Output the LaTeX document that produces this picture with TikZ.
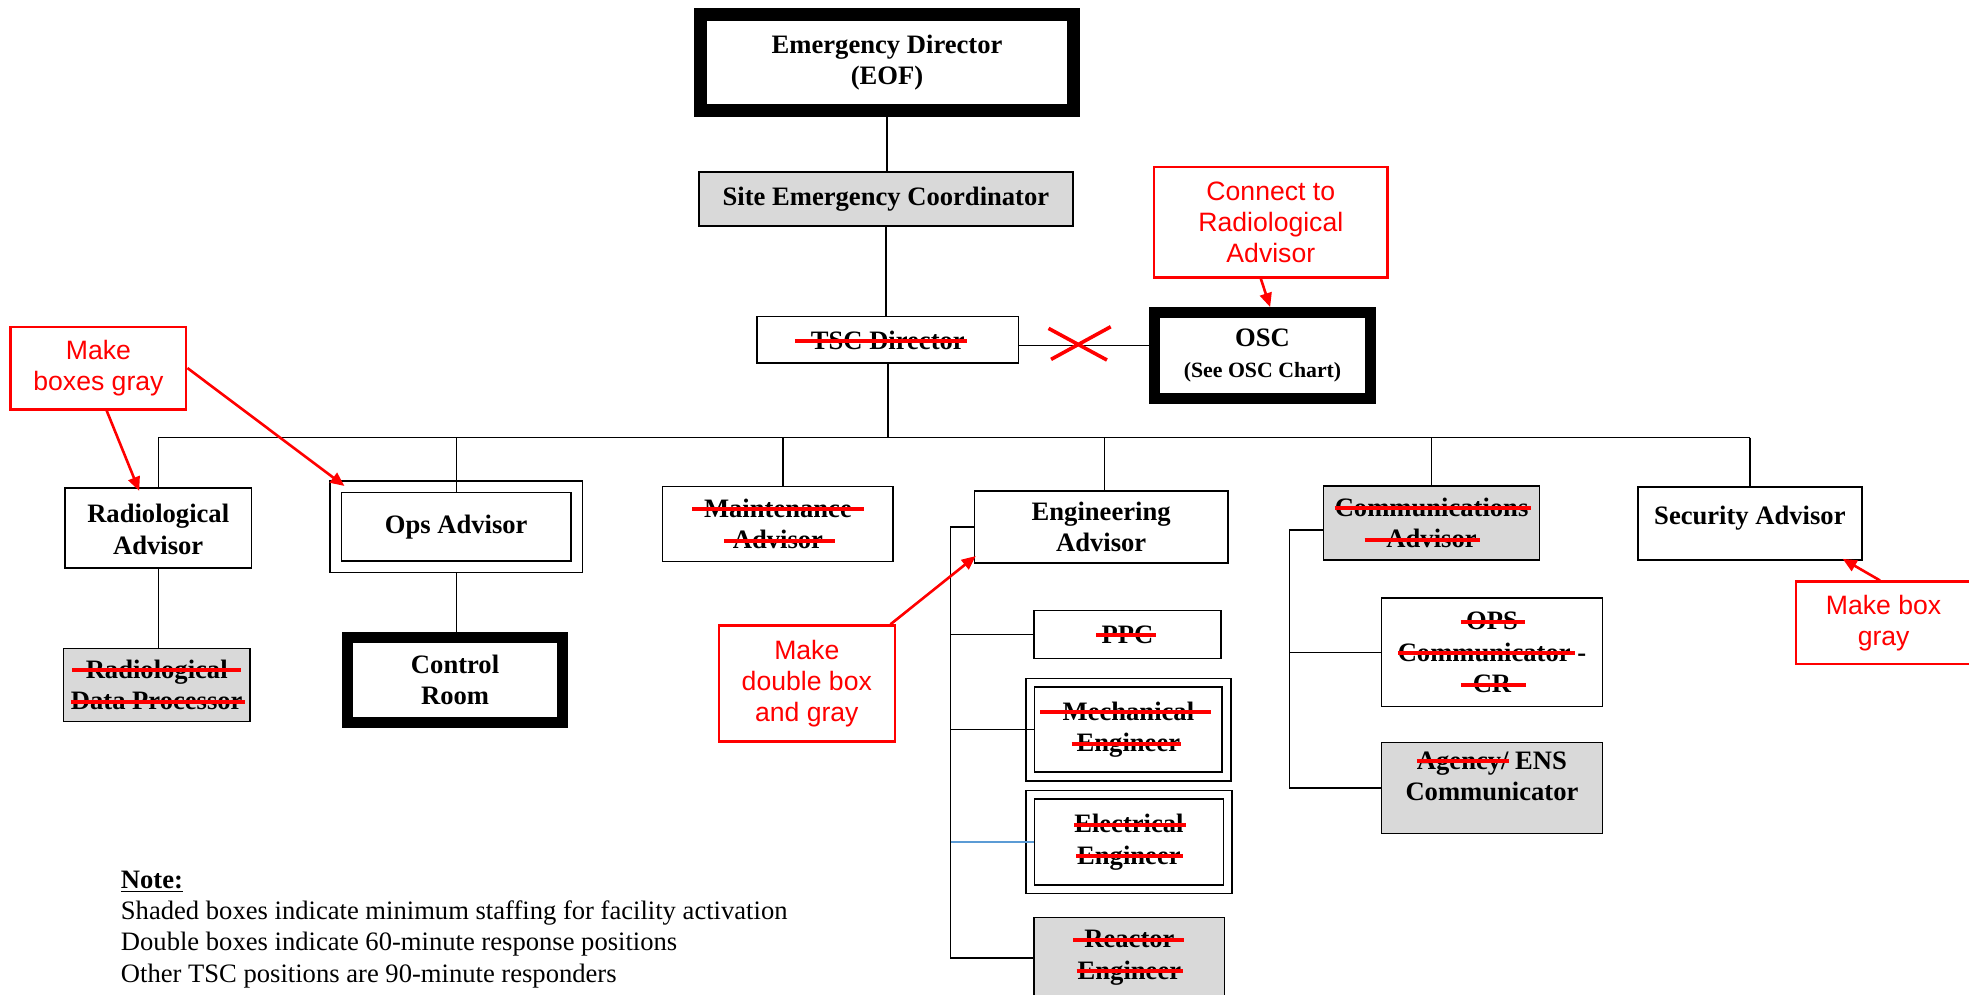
\documentclass[tikz,border=0pt]{standalone}
\usepackage{fontspec}
\setmainfont{Liberation Serif}
\newfontfamily\arialf{Liberation Sans}
\usetikzlibrary{arrows.meta}
\definecolor{boxgray}{gray}{0.85}
\definecolor{eblue}{HTML}{5B9BD5}
\newsavebox\stbox
% \strk{left overhang}{right overhang}{text}: text struck through in red
\newcommand\strk[3]{\sbox\stbox{#3}\usebox\stbox\kern-\wd\stbox\kern-#1\relax\textcolor{red}{\rule[3pt]{\dimexpr\wd\stbox+#1+#2\relax}{2pt}}\kern-#2\relax}
\begin{document}
\begin{tikzpicture}[x=0.62787pt, y=-0.62787pt,
  every node/.style={font=\fontsize{13.3}{15.7}\selectfont\bfseries, align=center, inner sep=1pt},
  sz/.style 2 args={minimum width=#1*0.62787pt, minimum height=#2*0.62787pt},
  box/.style={draw=black, line width=0.8pt, fill=white},
  grayb/.style={box, fill=boxgray},
  heavy/.style={draw=black, line width=#1, fill=white},
  dbox/.style={draw=black, line width=0.8pt, double=white, double distance=#1},
  conn/.style={draw=black, line width=0.7pt},
  callout/.style={draw=red, line width=1.2pt, fill=white, text=red, font=\arialf\fontsize{13.3}{15.4}\selectfont},
  pointer/.style={draw=red, line width=1.3pt, -{Triangle[length=7pt,width=6pt]}},
  xmark/.style={draw=red, line width=1.8pt},
  legend/.style={font=\fontsize{13.3}{15.7}\selectfont, align=left, inner sep=0pt, anchor=north west}
]
\useasboundingbox (0,0) rectangle (1568,792);
\clip (0,0) rectangle (1568,792);
\fill[white] (0,0) rectangle (1568,792);

% top chain
\node[heavy=6.5pt, sz={297.3}{75.7}] (ED) at (706.4,49.8) {Emergency Director\\(EOF)};
\node[grayb, sz={298}{43}] (SEC) at (705.5,158.7) {Site Emergency Coordinator};
\node[box, sz={208}{37}] (TSC) at (707,270.7) {\strk{8pt}{1.2pt}{TSC Director}};
\node[heavy=5.5pt, sz={172}{68.4}] (OSC) at (1005.4,283.1) {OSC\\{\fontsize{10.9}{13}\selectfont (See OSC Chart)}};

% advisors row
\node[box, sz={148.3}{63.7}] (RA) at (126,420.7) {\raisebox{-2pt}[\height][\depth]{\begin{tabular}{@{}c@{}}Radiological\\Advisor\end{tabular}}};
\node[grayb, sz={148.3}{58.4}] (RDP) at (124.8,545.5) {\strk{6.7pt}{6.5pt}{Radiological}\\\strk{0pt}{1.4pt}{Data Processor}};
\node[dbox=5pt, sz={192}{63.7}] (OPS) at (363.3,419.5) {Ops Advisor};
\node[heavy=5.5pt, sz={171.2}{67.9}] (CR) at (362.4,541.6) {Control\\Room};
\node[box, sz={183.6}{59.7}] (MA) at (619.5,417.3) {\strk{6pt}{6.3pt}{Maintenance}\\\strk{4.4pt}{6pt}{Advisor}};
\node[box, sz={201.7}{57.7}] (EA) at (876.9,419.7) {Engineering\\Advisor};
\node[box, sz={149}{38.4}] (PPC) at (897.9,505.3) {\strk{2.6pt}{1.2pt}{PPC}};
\node[dbox=3.6pt, sz={156.5}{74.7}] (ME) at (898.6,581.1) {\strk{11.1pt}{8.5pt}{Mechanical}\\\strk{2.6pt}{0.6pt}{Engineer}};
\node[dbox=3.5pt, sz={157.3}{75.1}] (EE) at (899,670.6) {\strk{0pt}{1pt}{Electrical}\\\strk{0.4pt}{1.4pt}{Engineer}};
\node[grayb, sz={151.7}{64.2}] (RE) at (899.4,762.8) {\strk{5.6pt}{4.6pt}{Reactor}\\\strk{0.6pt}{1pt}{Engineer}};
\node[grayb, sz={172}{59}] (CA) at (1140,416.5) {\strk{0pt}{1.1pt}{Communications}\\\strk{10.9pt}{1.8pt}{Advisor}};
\node[box, sz={176.2}{86.3}] (OC) at (1188.1,519.6) {\strk{2.7pt}{3.6pt}{OPS}\\\strk{0pt}{2.3pt}{Communicator} -\\\strk{5.9pt}{7.2pt}{CR}};
\node[grayb, sz={176.2}{72.2}] (AG) at (1188.1,627.5) {\raisebox{4.7pt}[\height][\depth]{\begin{tabular}{@{}c@{}}\strk{0pt}{0pt}{Agency/} ENS\\Communicator\end{tabular}}};
\node[box, sz={178.4}{58.4}] (SA) at (1393.5,416.8) {\raisebox{2.5pt}[\height][\depth]{Security Advisor}};

% connectors
\draw[conn] (ED.south) -- (ED.south |- SEC.north);
\draw[conn] (SEC.south) -- (SEC.south |- TSC.north);
\coordinate (bl) at (126,348.5);
\draw[conn] (TSC.south) -- (TSC.south |- bl);
\draw[conn, line width=0.8pt] (RA.north |- bl) -- (SA.north |- bl);
\draw[conn] ([yshift=-2.7pt]TSC.east) -- ([yshift=-2.7pt]TSC.east -| OSC.west);
\draw[conn] (RA.north |- bl) -- (RA.north);
\draw[conn] (OPS.north |- bl) -- ([yshift=-2.9pt]OPS.north);
\draw[conn] ([xshift=2.5pt]MA.north |- bl) -- ([xshift=2.5pt]MA.north);
\draw[conn] ([xshift=1.6pt]EA.north |- bl) -- ([xshift=1.6pt]EA.north);
\draw[conn] (CA.north |- bl) -- (CA.north);
\draw[conn] (SA.north |- bl) -- (SA.north);
\draw[conn] (RA.south) -- (RA.south |- RDP.north);
\draw[conn] ([yshift=-2.9pt]OPS.south) -- (OPS.south |- CR.north);

\coordinate (eb) at (757,762.8);
\draw[conn] (EA.west) -| (eb) -- (RE.west);
\draw[conn] (PPC.west -| eb) -- (PPC.west);
\draw[conn] (ME.west -| eb) -- ([xshift=2.2pt]ME.west);
\draw[conn, draw=eblue] (EE.west -| eb) -- ([xshift=2.15pt]EE.west);

\coordinate (cb) at (1026.8,627.5);
\draw[conn] ([yshift=-3.5pt]CA.west) -| (cb) -- (AG.west);
\draw[conn] (OC.west -| cb) -- (OC.west);

% red X on TSC-OSC link
\draw[xmark] (835,261.5) -- (881.5,286.7) (884.5,260.2) -- (837,286.2);

% callouts
\node[callout, sz={186}{88}] (C1) at (1012,177) {Connect to\\Radiological\\Advisor};
\node[callout, sz={139.8}{65.8}] (MB1) at (78.4,293.1) {Make\\boxes gray};
\node[callout, sz={140.3}{92.4}] (MB2) at (642.5,544.3) {Make\\double box\\and gray};
\node[callout, sz={139.6}{65.8}] (MB3) at (1500,496.1) {Make box\\gray};

\draw[pointer] ([xshift=-5pt]C1.south) -- ([xshift=3.8pt]OSC.north);
\draw[pointer] ([xshift=4.1pt]MB1.south) -- ([xshift=-9.5pt,yshift=-1.7pt]RA.north);
\draw[pointer] (MB1.east) -- ([xshift=4.8pt]OPS.north west);
\draw[pointer] ([xshift=-2.8pt]MB2.north east) -- ([xshift=1pt,yshift=4pt]EA.south west);
\draw[pointer] ([xshift=-1.8pt]MB3.north) -- ([xshift=-10pt,yshift=1pt]SA.south east);

% legend
\node[legend] (NOTE) at (96,693) {\underline{\textbf{Note:}}\\Shaded boxes indicate minimum staffing for facility activation\\Double boxes indicate 60-minute response positions\\Other TSC positions are 90-minute responders};
\end{tikzpicture}
\end{document}
